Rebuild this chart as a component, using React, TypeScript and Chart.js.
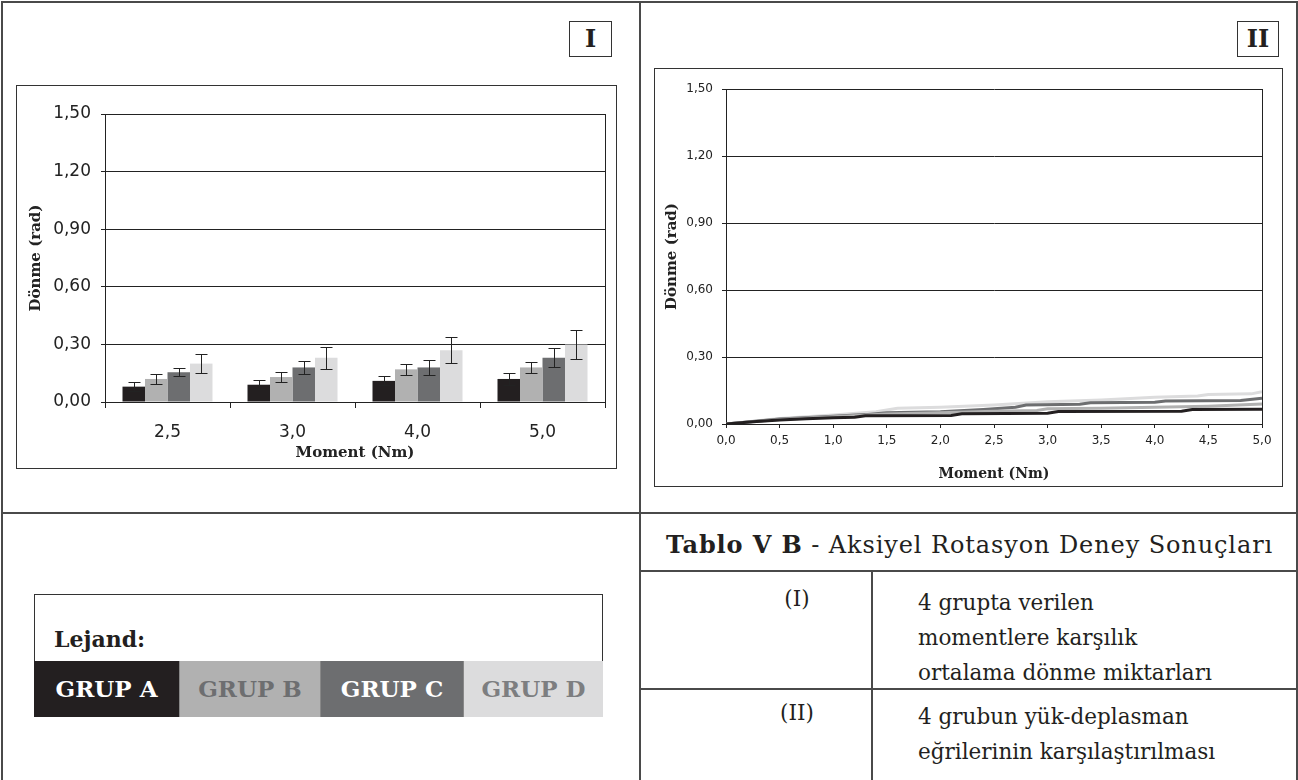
import React, { useEffect, useRef } from 'react';
import { Chart, registerables } from 'chart.js';

Chart.register(...registerables);

// ---------- Bar chart (I) data ----------
const barCategories = ['2,5', '3,0', '4,0', '5,0'];
const groupNames = ['GRUP A', 'GRUP B', 'GRUP C', 'GRUP D'];
const groupA = [0.08, 0.09, 0.11, 0.12];
const groupB = [0.12, 0.13, 0.17, 0.18];
const groupC = [0.155, 0.18, 0.18, 0.23];
const groupD = [0.2, 0.23, 0.27, 0.3];
const errA = [0.025, 0.023, 0.023, 0.033];
const errB = [0.024, 0.028, 0.029, 0.03];
const errC = [0.022, 0.036, 0.041, 0.05];
const errD = [0.05, 0.056, 0.069, 0.075];

// ---------- Line chart (II) data ----------
const momentA = [0, 0.25, 0.5, 0.75, 1.0, 1.2, 1.3, 2.1, 2.2, 3.0, 3.1, 4.25, 4.35, 5.0];
const rotationA = [0, 0.01, 0.018, 0.024, 0.028, 0.03, 0.037, 0.038, 0.046, 0.048, 0.056, 0.057, 0.065, 0.066];
const momentB = [0, 0.5, 1.0, 1.5, 2.0, 2.5, 2.9, 3.0, 3.5, 4.0, 4.5, 5.0];
const rotationB = [0, 0.02, 0.033, 0.045, 0.05, 0.057, 0.06, 0.068, 0.07, 0.075, 0.08, 0.09];
const momentC = [0, 0.5, 1.0, 1.3, 1.5, 2.0, 2.4, 2.7, 2.8, 3.3, 3.4, 4.0, 4.1, 4.8, 5.0];
const rotationC = [0, 0.022, 0.035, 0.042, 0.05, 0.055, 0.065, 0.075, 0.085, 0.088, 0.095, 0.097, 0.103, 0.105, 0.115];
const momentD = [0, 0.5, 1.0, 1.4, 1.6, 2.0, 2.5, 3.0, 3.5, 4.0, 4.4, 4.5, 4.9, 5.0];
const rotationD = [0, 0.025, 0.04, 0.055, 0.07, 0.075, 0.085, 0.1, 0.108, 0.12, 0.125, 0.132, 0.135, 0.145];

const groupColors = ['#231f20', '#b1b1b1', '#6d6e70', '#dcdcdd'];
const legendTextColors = ['#ffffff', '#6d6e70', '#ffffff', '#7d7e80'];

const fmt2 = (v: any) => Number(v).toFixed(2).replace('.', ',');
const fmt1 = (v: any) => Number(v).toFixed(1).replace('.', ',');

const AXIS = '#222';
const SANS = 'DejaVu Sans';
const SERIF = 'DejaVu Serif';

const rightBorderPlugin = {
  id: 'rightBorder',
  beforeDatasetsDraw(chart: any) {
    const { ctx, chartArea } = chart;
    ctx.save();
    ctx.strokeStyle = AXIS;
    ctx.lineWidth = 1;
    const x = Math.round(chartArea.right) + 0.5;
    ctx.beginPath();
    ctx.moveTo(x, Math.round(chartArea.top));
    ctx.lineTo(x, Math.round(chartArea.bottom));
    ctx.stroke();
    ctx.restore();
  },
};

const errorBarPlugin = {
  id: 'errorBars',
  afterDatasetsDraw(chart: any) {
    const { ctx } = chart;
    const yScale = chart.scales.y;
    ctx.save();
    ctx.strokeStyle = '#222';
    ctx.lineWidth = 1;
    chart.data.datasets.forEach((ds: any, i: number) => {
      const meta = chart.getDatasetMeta(i);
      meta.data.forEach((bar: any, j: number) => {
        const v = ds.data[j];
        const e = ds.errors[j];
        const yt = Math.round(yScale.getPixelForValue(v + e)) + 0.5;
        const yb = Math.round(yScale.getPixelForValue(v - e)) + 0.5;
        const x = Math.round(bar.x) + 0.5;
        ctx.beginPath();
        ctx.moveTo(x, yt);
        ctx.lineTo(x, yb);
        ctx.moveTo(x - 6, yt);
        ctx.lineTo(x + 6, yt);
        ctx.moveTo(x - 6, yb);
        ctx.lineTo(x + 6, yb);
        ctx.stroke();
      });
    });
    ctx.restore();
  },
};

function BarChart() {
  const ref = useRef<HTMLCanvasElement>(null);
  useEffect(() => {
    const values = [groupA, groupB, groupC, groupD];
    const errs = [errA, errB, errC, errD];
    const chart = new Chart(ref.current as HTMLCanvasElement, {
      type: 'bar',
      data: {
        labels: barCategories,
        datasets: values.map((d, i) => ({
          label: groupNames[i],
          data: d,
          errors: errs[i],
          backgroundColor: groupColors[i],
          borderWidth: 0,
          categoryPercentage: 0.72,
          barPercentage: 1.0,
        })) as any,
      },
      options: {
        responsive: false,
        animation: false,
        layout: { padding: { top: 28, right: 11, left: 0, bottom: 0 } },
        plugins: { legend: { display: false }, tooltip: { enabled: false } },
        scales: {
          x: {
            grid: { offset: true, drawOnChartArea: false, drawTicks: true, tickLength: 6, color: AXIS },
            border: { color: AXIS, width: 1 },
            ticks: { font: { family: SANS, size: 17 }, color: '#222', padding: 14 },
            title: {
              display: true,
              text: 'Moment (Nm)',
              font: { family: SERIF, weight: 'bold', size: 15 },
              color: '#222',
              padding: { top: 0, bottom: 6 },
            },
            afterFit: (s: any) => { s.height = 66; },
          },
          y: {
            min: 0,
            max: 1.5,
            ticks: { stepSize: 0.3, callback: fmt2, font: { family: SANS, size: 17 }, color: '#222', padding: 10 },
            grid: { color: AXIS, tickLength: 4, lineWidth: 1 },
            border: { color: AXIS, width: 1 },
            title: {
              display: true,
              text: 'Dönme (rad)',
              font: { family: SERIF, weight: 'bold', size: 15 },
              color: '#222',
              padding: { top: 10, bottom: 0 },
            },
            afterFit: (s: any) => { s.width = 88; },
          },
        },
      } as any,
      plugins: [rightBorderPlugin, errorBarPlugin],
    });
    return () => chart.destroy();
  }, []);
  return <canvas ref={ref} width={599} height={382} style={{ display: 'block' }} />;
}

function LineChart() {
  const ref = useRef<HTMLCanvasElement>(null);
  useEffect(() => {
    const xs = [momentA, momentB, momentC, momentD];
    const ys = [rotationA, rotationB, rotationC, rotationD];
    const chart = new Chart(ref.current as HTMLCanvasElement, {
      type: 'line',
      data: {
        datasets: xs.map((x, i) => ({
          label: groupNames[i],
          data: x.map((m, k) => ({ x: m, y: ys[i][k] })),
          borderColor: groupColors[i],
          borderWidth: 3,
          pointRadius: 0,
          tension: 0,
          fill: false,
        })),
      },
      options: {
        responsive: false,
        animation: false,
        layout: { padding: { top: 20, right: 20, left: 0, bottom: 0 } },
        plugins: { legend: { display: false }, tooltip: { enabled: false } },
        scales: {
          x: {
            type: 'linear',
            min: 0,
            max: 5,
            ticks: { stepSize: 0.5, callback: fmt1, font: { family: SANS, size: 12 }, color: '#222', padding: 6 },
            grid: { drawOnChartArea: false, drawTicks: true, tickLength: 4, color: AXIS },
            border: { color: AXIS, width: 1 },
            title: {
              display: true,
              text: 'Moment (Nm)',
              font: { family: SERIF, weight: 'bold', size: 14 },
              color: '#222',
              padding: { top: 0, bottom: 3 },
            },
            afterFit: (s: any) => { s.height = 62; },
          },
          y: {
            min: 0,
            max: 1.5,
            ticks: { stepSize: 0.3, callback: fmt2, font: { family: SANS, size: 12 }, color: '#222', padding: 9 },
            grid: { color: AXIS, tickLength: 4, lineWidth: 1 },
            border: { color: AXIS, width: 1 },
            title: {
              display: true,
              text: 'Dönme (rad)',
              font: { family: SERIF, weight: 'bold', size: 15 },
              color: '#222',
              padding: { top: 8, bottom: 0 },
            },
            afterFit: (s: any) => { s.width = 71; },
          },
        },
      } as any,
      plugins: [rightBorderPlugin],
    });
    return () => chart.destroy();
  }, []);
  return <canvas ref={ref} width={627} height={417} style={{ display: 'block' }} />;
}

const abs = (l: number, t: number, w: number, h: number, extra: any = {}) => ({
  position: 'absolute' as const,
  left: l,
  top: t,
  width: w,
  height: h,
  boxSizing: 'border-box' as const,
  ...extra,
});

const LINE = '#4a4a4a';

export default function App() {
  const serif = { fontFamily: SERIF, color: '#231f20' };
  return (
    <div style={{ position: 'absolute', left: 0, top: 0, width: 1298, height: 780, overflow: 'hidden', background: '#fff' }}>
      {/* outer frame */}
      <div style={abs(1, 1, 1297, 800, { borderLeft: `2px solid ${LINE}`, borderTop: `2px solid ${LINE}`, borderRight: `2px solid ${LINE}` })} />
      <div style={abs(639, 1, 2, 800, { background: LINE })} />
      <div style={abs(1, 512, 1297, 2, { background: LINE })} />

      {/* Roman numeral boxes */}
      <div style={abs(569, 21, 43, 36, { border: '1.5px solid #333', ...serif, fontWeight: 'bold', fontSize: 24, lineHeight: '33px', textAlign: 'center' })}>I</div>
      <div style={abs(1237, 21, 42, 36, { border: '1.5px solid #333', ...serif, fontWeight: 'bold', fontSize: 24, lineHeight: '33px', textAlign: 'center' })}>II</div>

      {/* Chart I */}
      <div style={abs(16, 85, 601, 384, { border: '1px solid #333' })}>
        <BarChart />
      </div>

      {/* Chart II */}
      <div style={abs(654, 68, 629, 419, { border: '1px solid #333' })}>
        <LineChart />
      </div>

      {/* Legend */}
      <div style={abs(34, 594, 569, 123, { border: '1px solid #333' })}>
        <div style={{ position: 'absolute', left: 19, top: 31, ...serif, fontWeight: 'bold', fontSize: 22, lineHeight: '26px' }}>Lejand:</div>
        <div style={{ position: 'absolute', left: -1, top: 66, width: 569, height: 56, display: 'flex' }}>
          {groupNames.map((g, i) => (
            <div
              key={g}
              style={{
                width: [145, 141, 143, 140][i],
                height: 56,
                boxSizing: 'border-box',
                background: groupColors[i],
                color: legendTextColors[i],
                borderLeft: i > 0 ? '1px solid #888' : 'none',
                fontFamily: SERIF,
                fontWeight: 'bold',
                fontSize: 23,
                lineHeight: '56px',
                textAlign: 'center',
                whiteSpace: 'nowrap',
              }}
            >
              {g}
            </div>
          ))}
        </div>
      </div>

      {/* Table */}
      <div style={{ position: 'absolute', left: 666, top: 532, ...serif, fontSize: 24, letterSpacing: '0.9px', lineHeight: '26px', whiteSpace: 'nowrap' }}>
        <b>Tablo V B</b> - Aksiyel Rotasyon Deney Sonuçları
      </div>
      <div style={abs(640, 570, 658, 1.5, { background: LINE })} />
      <div style={abs(871, 571, 1.5, 220, { background: LINE })} />
      <div style={abs(640, 688, 658, 1.5, { background: LINE })} />

      <div style={{ position: 'absolute', left: 757, width: 80, top: 585, textAlign: 'center', ...serif, fontSize: 21.5, lineHeight: '28px' }}>(I)</div>
      <div style={{ position: 'absolute', left: 918, top: 585, ...serif, fontSize: 21.5, lineHeight: '35px', whiteSpace: 'nowrap' }}>
        4 grupta verilen<br />momentlere karşılık<br />ortalama dönme miktarları
      </div>
      <div style={{ position: 'absolute', left: 757, width: 80, top: 699, textAlign: 'center', ...serif, fontSize: 21.5, lineHeight: '28px' }}>(II)</div>
      <div style={{ position: 'absolute', left: 918, top: 699, ...serif, fontSize: 21.5, lineHeight: '35px', whiteSpace: 'nowrap' }}>
        4 grubun yük-deplasman<br />eğrilerinin karşılaştırılması
      </div>
    </div>
  );
}
